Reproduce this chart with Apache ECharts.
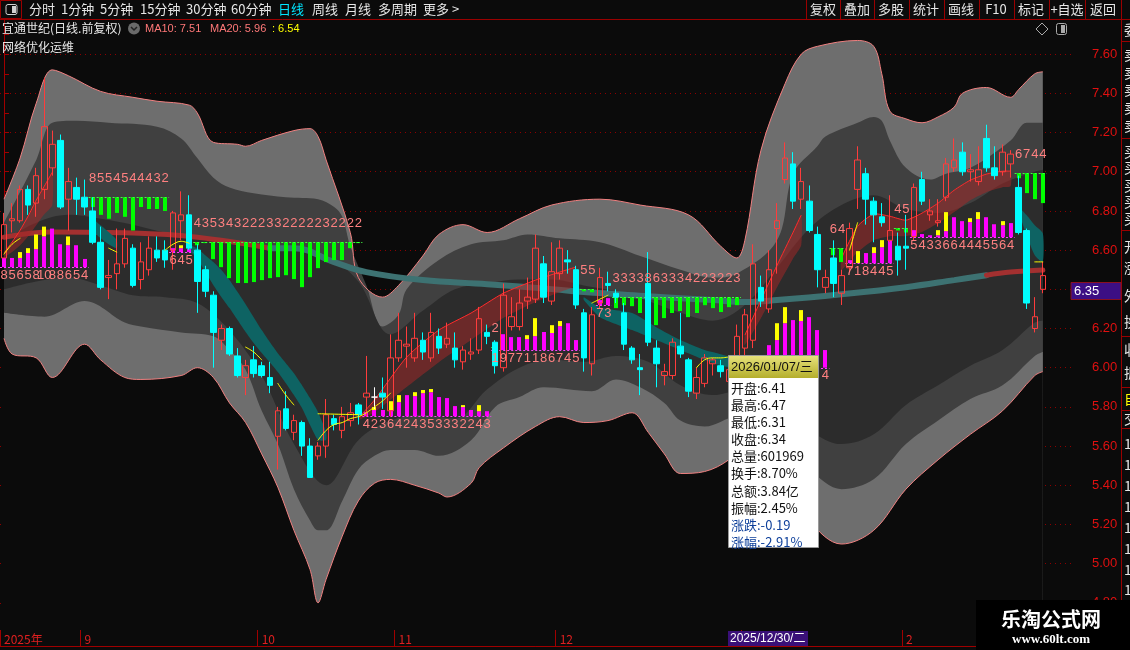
<!DOCTYPE html>
<html><head><meta charset="utf-8">
<script src="https://cdn.jsdelivr.net/npm/echarts/dist/echarts.min.js"></script>
<style>html,body{margin:0;padding:0;background:#0b0b0b;}#c{width:1130px;height:650px;}</style>
</head><body><div id="c"></div>
<script>
// ---------- trading days ----------
const aug=[18,19,20,21,22,25,26,27,28,29];
const sep=[1,2,3,4,5,8,9,10,11,12,15,16,17,18,19,22,23,24,25,26,29,30];
const oct=[9,10,13,14,15,16,17,20,21,22,23,24,27,28,29,30,31];
const nov=[3,4,5,6,7,10,11,12,13,14,17,18,19,20,21,24,25,26,27,28];
const dec=[1,2,3,4,5,8,9,10,11,12,15,16,17,18,19,22,23,24,25,26,29,30,31];
const jan=[5,6,7,8,9,12,13,14,15,16,19,20,21,22,23,26,27,28,29,30];
const feb=[2,3,4,5,6,9,10,11,12,13,24,25,26,27];
const mar=[2,3,4,5,6,9,10];
const monthLabel={0:'2025年',10:'9',32:'10',49:'11',69:'12',92:'1',112:'2',126:'3'};
const lastPrice=6.35;

// ---------- candles ----------
const opens=[6.56,6.75,6.75,6.91,6.84,6.91,7.02,7.16,6.86,6.92, 6.87,6.80,6.64,6.46,6.48,6.53,6.61,6.45,6.50,6.60, 6.60,6.60,6.75,6.78,6.60,6.50,6.37,6.14,6.20,6.06, 5.95,6.04,6.01,5.95,5.65,5.79,5.67,5.72,5.60,5.55, 5.60,5.74,5.68,5.73,5.81,5.85,5.85,5.87,5.78,6.05, 6.11,6.05,6.14,6.05,6.16,6.12,6.10,6.03,6.07,6.09, 6.18,6.13,6.00,6.21,6.21,6.34,6.35,6.53,6.34,6.48, 6.55,6.50,6.28,6.02,6.33,6.43,6.38,6.28,6.10,6.00, 6.43,6.10,5.96,5.96,6.11,6.04,5.87,5.92,6.02,6.01, 5.93,5.99,6.10,6.14,6.41,6.30,6.71,6.96,7.04,6.86, 6.85,6.68,6.41,6.56,6.38,6.51,6.91,6.99,6.85,6.77, 6.65,6.62,6.62,6.67,6.96,6.78,6.74,6.87,7.02,7.10, 7.00,6.95,7.17,7.02,7.00,7.04,6.92,6.70,6.20,6.40];
const closes=[6.73,6.76,6.91,6.83,6.98,7.23,7.14,6.82,6.95,6.86, 6.82,6.64,6.41,6.47,6.53,6.66,6.42,6.54,6.61,6.56, 6.55,6.79,6.78,6.61,6.44,6.39,6.18,6.20,6.07,5.96, 6.01,5.97,5.96,5.91,5.78,5.69,5.73,5.60,5.44,5.60, 5.76,5.71,5.75,5.77,5.76,5.87,5.85,5.85,6.05,6.14, 6.12,6.15,6.08,6.18,6.10,6.15,6.04,6.09,6.08,6.25, 6.16,6.01,6.37,6.26,6.33,6.36,6.61,6.36,6.49,6.61, 6.54,6.32,6.05,6.27,6.46,6.42,6.36,6.12,6.04,5.99, 6.13,6.02,5.98,6.13,6.07,5.88,5.95,6.05,6.04,5.98, 5.99,6.16,6.27,6.53,6.34,6.50,6.75,7.07,6.85,6.95, 6.70,6.50,6.46,6.43,6.47,6.71,7.06,6.86,6.78,6.74, 6.70,6.55,6.61,6.92,6.85,6.80,6.75,7.04,7.06,7.00, 7.01,7.01,7.02,6.98,7.10,7.09,6.69,6.33,6.26,6.47];
const lows=[6.56,6.69,6.74,6.78,6.77,6.86,6.98,6.81,6.70,6.78, 6.78,6.63,6.40,6.35,6.40,6.51,6.41,6.40,6.47,6.54, 6.51,6.50,6.65,6.60,6.28,6.36,6.00,6.09,6.06,5.95, 5.86,5.95,5.95,5.87,5.48,5.68,5.63,5.55,5.44,5.53, 5.54,5.68,5.64,5.70,5.71,5.75,5.79,5.79,5.75,6.03, 6.00,6.03,6.04,6.03,6.07,6.10,6.00,5.99,6.04,6.07, 6.12,5.97,5.98,6.19,6.19,6.30,6.33,6.33,6.32,6.45, 6.48,6.30,5.98,5.96,6.30,6.39,6.33,6.09,6.02,5.86, 6.11,5.90,5.91,5.94,6.05,5.85,5.84,5.90,5.96,5.95, 5.90,5.97,6.05,6.10,6.31,6.28,6.48,6.94,6.81,6.81, 6.69,6.41,6.38,6.36,6.32,6.49,6.81,6.73,6.64,6.72, 6.64,6.47,6.50,6.65,6.83,6.75,6.72,6.85,7.00,6.98, 6.95,6.93,7.00,6.96,6.98,6.97,6.68,6.30,6.18,6.38];
const highs=[6.79,6.84,6.93,6.93,7.02,7.48,7.21,7.19,7.02,6.97, 6.96,6.87,6.72,6.55,6.71,6.71,6.63,6.64,6.67,6.67, 6.65,6.80,6.90,6.88,6.63,6.52,6.39,6.22,6.21,6.10, 6.04,6.11,6.03,6.03,5.80,5.88,5.76,5.73,5.64,5.62, 5.84,5.76,5.80,5.82,5.82,6.06,5.90,5.95,6.17,6.28, 6.21,6.28,6.18,6.28,6.20,6.23,6.18,6.11,6.15,6.31, 6.22,6.14,6.43,6.36,6.40,6.46,6.68,6.57,6.64,6.65, 6.60,6.52,6.30,6.31,6.51,6.49,6.40,6.33,6.11,6.07, 6.59,6.14,6.02,6.15,6.28,6.05,6.00,6.07,6.05,6.04, 6.02,6.22,6.30,6.63,6.47,6.60,6.84,7.15,7.10,7.02, 6.93,6.72,6.50,6.65,6.50,6.74,7.13,7.02,6.87,6.84, 6.88,6.69,6.78,6.94,7.00,6.86,6.86,7.07,7.17,7.15, 7.09,7.13,7.24,7.13,7.14,7.11,6.98,6.71,6.36,6.54];
const flatDoji=[46];

// ---------- envelope bands [candle index, price] ----------
const bandU3=[[0,6.86],[2,7.07],[4,7.35],[6,7.52],[8,7.49],[12,7.41],[16,7.38],[19,7.36],[23,7.34],[24,7.30],[26,7.15],[29,7.14],[30,7.13],[32,7.16],[36,7.21],[38,7.22],[39,7.18],[40,7.06],[43,6.69],[44,6.46],[47,6.36],[49,6.42],[52,6.57],[54,6.68],[57,6.73],[60,6.69],[64,6.76],[68,6.83],[74,6.86],[79,6.83],[85,6.78],[89,6.62],[91,6.56],[92,6.65],[94,7.11],[97,7.45],[99,7.60],[101,7.64],[106,7.67],[108,7.64],[109,7.50],[110,7.31],[112,7.27],[114,7.25],[116,7.28],[118,7.33],[119,7.40],[122,7.43],[125,7.38],[126,7.42],[128,7.50],[129,7.51]];
const bandU2=[[0,6.74],[4,7.06],[6,7.25],[9,7.26],[13,7.25],[19,7.23],[22,7.17],[24,7.07],[26,6.97],[28,6.92],[31,6.89],[35,6.87],[39,6.86],[41,6.82],[42,6.77],[43,6.62],[45,6.42],[47,6.21],[49,6.27],[50,6.40],[54,6.55],[58,6.63],[62,6.65],[65,6.68],[69,6.66],[74,6.64],[79,6.57],[84,6.50],[88,6.46],[91,6.48],[96,6.65],[98,6.99],[101,7.13],[102,7.18],[106,7.25],[108,7.28],[109,7.26],[110,7.16],[112,7.02],[115,6.96],[117,6.99],[120,7.02],[125,7.16],[127,7.25],[129,7.25]];
const bandU1=[[0,6.65],[4,6.74],[8,6.78],[12,6.76],[16,6.73],[20,6.69],[24,6.67],[28,6.64],[32,6.62],[36,6.60],[40,6.57],[44,6.44],[48,6.17],[52,6.29],[56,6.40],[60,6.43],[64,6.45],[68,6.45],[72,6.42],[76,6.39],[80,6.34],[84,6.28],[88,6.24],[92,6.32],[96,6.51],[100,6.71],[104,6.83],[108,6.88],[112,6.81],[116,6.79],[120,6.84],[124,6.94],[128,7.00],[129,7.01]];
const bandL1=[[0,6.40],[4,6.44],[8,6.46],[12,6.42],[16,6.37],[20,6.36],[24,6.33],[28,6.19],[32,5.96],[36,5.61],[40,5.40],[44,5.63],[48,5.73],[52,5.76],[56,5.74],[60,5.89],[64,6.00],[68,6.04],[72,6.03],[76,6.06],[80,6.03],[84,5.91],[88,5.86],[92,5.89],[96,5.81],[100,5.68],[104,5.61],[108,5.66],[112,5.81],[116,5.91],[120,6.01],[124,6.09],[128,6.23],[129,6.24]];
const bandL2=[[0,6.28],[5,6.26],[10,6.34],[15,6.23],[17,6.21],[22,6.18],[26,6.16],[28,6.09],[30,5.99],[32,5.78],[34,5.61],[36,5.38],[38,5.22],[39,5.17],[40,5.17],[42,5.32],[44,5.48],[46,5.55],[48,5.58],[51,5.58],[54,5.55],[58,5.63],[61,5.80],[64,5.85],[67,5.90],[73,5.88],[76,5.94],[79,5.90],[82,5.82],[84,5.73],[87,5.70],[91,5.75],[96,5.63],[100,5.48],[104,5.38],[108,5.43],[112,5.61],[116,5.73],[120,5.84],[124,5.91],[128,6.06],[129,6.08]];
const bandL3=[[0,6.15],[1,6.07],[4,6.05],[6,5.95],[10,6.12],[12,6.04],[15,5.95],[17,5.94],[22,5.96],[24,6.00],[26,5.95],[28,5.82],[30,5.72],[32,5.56],[34,5.39],[36,5.17],[38,4.97],[39,4.80],[40,4.92],[42,5.14],[44,5.32],[46,5.41],[48,5.43],[51,5.40],[54,5.36],[55,5.34],[58,5.41],[59,5.49],[62,5.59],[66,5.70],[69,5.75],[72,5.72],[75,5.73],[78,5.77],[80,5.67],[82,5.56],[84,5.46],[87,5.47],[90,5.53],[91,5.59],[96,5.48],[100,5.22],[104,5.10],[108,5.17],[112,5.38],[116,5.53],[120,5.66],[124,5.78],[128,5.96],[129,5.98]];

// ---------- long average (thick) ----------
const maRedA=[[0,6.666],[6,6.692],[16,6.687],[24,6.666],[33,6.610]];
const maTeal=[[33,6.610],[36,6.61],[41,6.539],[45,6.488],[52,6.447],[60,6.426],[68,6.401],[72,6.386],[80,6.365],[88,6.345],[92,6.335],[96,6.345],[104,6.375],[112,6.411],[118,6.447],[122,6.472]];
const maRedB=[[122,6.472],[125,6.488],[129,6.498]];

// ---------- ribbons [index, upper, lower] ----------
const ribA=[[0,6.585,6.564],[1,6.641,6.590],[2,6.702,6.625],[3,6.774,6.671],[4,6.855,6.727],[5,6.926,6.783],[6,6.998,6.829]];
const ribB=[[11,6.758,6.702],[12,6.727,6.661],[13,6.692,6.630],[14,6.651,6.610]];
const ribC=[[23,6.625,6.600],[24,6.610,6.559],[25,6.574,6.488],[26,6.539,6.421],[27,6.498,6.360],[28,6.447,6.304],[29,6.386,6.243],[30,6.324,6.182],[31,6.258,6.126],[32,6.192,6.075],[33,6.131,6.028],[34,6.074,5.978],[35,6.023,5.921],[36,5.972,5.860],[37,5.911,5.794],[38,5.845,5.707],[39,5.773,5.631],[40,5.671,5.631]];
const ribD=[[44,5.743,5.733],[46,5.835,5.773],[50,6.054,5.901],[54,6.192,6.028],[58,6.279,6.141],[62,6.380,6.253],[66,6.447,6.335],[69,6.488,6.386],[71,6.513,6.421]];
const ribE=[[72,6.360,6.345],[74,6.309,6.258],[78,6.279,6.192],[81,6.207,6.141],[84,6.141,6.090],[87,6.090,6.039],[90,6.054,6.003]];
const ribF=[[92,6.166,6.115],[94,6.345,6.253],[96,6.523,6.411],[98,6.692,6.559],[99,6.779,6.625]];
const ribG=[[104,6.559,6.498],[106,6.722,6.590],[108,6.784,6.651],[110,6.773,6.671],[112,6.753,6.671],[114,6.789,6.692],[116,6.840,6.738],[118,6.906,6.794],[120,6.957,6.855],[122,6.988,6.896],[124,7.003,6.921],[125,7.003,6.926]];
const ribH=[[126,6.819,6.794],[127,6.778,6.676],[128,6.727,6.574],[129,6.686,6.539]];

// ---------- thin yellow line segments ----------
const yellowSegs=[
 [[0,6.58],[1,6.63],[2,6.66]],
 [[13,6.61],[14,6.59]],
 [[20,6.60],[21,6.63],[22,6.645],[23,6.635]],
 [[30,6.105],[31,6.08],[32,6.04]],
 [[34,5.92],[35,5.86],[36,5.81]],
 [[39,5.63],[40,5.68],[41,5.71],[42,5.72],[43,5.74],[44,5.75],[45,5.77],[46,5.80],[47,5.83],[48,5.87]],
 [[39,5.765],[44,5.76]],
 [[73,6.33],[74,6.35],[75,6.37]],
 [[86,6.00],[87,6.04],[88,6.05],[89,6.05],[90,6.055]],
 [[105,6.60],[106,6.74]],
 [[128,6.54],[129,6.54]]
];

// ---------- signal bar groups ----------
const g1Mag=[6.56,6.56,6.56,6.585,6.605,6.67,6.71,6.63,6.625,6.625,6.555], g1Yel=[null,null,6.59,6.61,6.68,6.72,null,null,6.67,null,null];
const g1Txt=['8','5','6','5','8','10','8','8','6','5','4'];
const g2Bot=[6.82,6.78,6.76,6.79,6.77,6.70,6.82,6.81,6.81,6.80], g2Txt='8554544432';
const g3Mag=[6.61,6.61,6.605], g3Yel=[null,6.625,null], g3Txt='645';
const g4Bot=[6.625,6.636,6.554,6.513,6.457,6.432,6.432,6.437,6.447,6.457,6.462,6.472,6.452,6.411,6.462,6.508,6.539,6.549,6.549,6.610,6.636], g4Txt='435343222332222232222';
const g5Mag=[5.773,5.784,5.784,5.784,5.824,5.860,5.855,5.870,5.875,5.850,5.845,5.804,5.799,5.784,5.778,5.778];
const g5Yel=[null,5.799,null,5.829,5.860,null,5.875,5.886,5.891,null,null,null,5.809,null,5.809,null], g5Txt='4236424353332243';
const g6Mag=[6.11,6.171,6.156,6.156,6.146,6.161,6.182,6.177,6.212,6.227,6.141];
const g6Yel=[null,null,null,null,6.166,6.253,null,6.217,6.238,null,null], g6Txt='19771186745';
const g6bMag=[6.345,6.355], g6bTxt='73';
const g7aBot=[6.39,6.385], g7aTxt='55';
const g7bBot=[6.09], g7bTxt='2';
const g7Bot=[6.304,6.319,6.314,6.279,6.253,6.217,6.253,6.279,6.289,6.258,6.279,6.319,6.304,6.284,6.309,6.319], g7Txt='3333863334223223';
const g8Mag=[6.06,6.115,6.141,6.227,6.243,6.238,6.258,6.192,6.09], g8Yel=[null,null,6.227,6.309,null,6.294,null,null,null], g8Txt='        4';
const g9Bot=[6.574,6.539], g9Txt='64';
const g10Mag=[6.549,6.534,6.585,6.585,6.615,6.651], g10Yel=[null,6.595,null,6.615,6.651,null], g10Txt='718445';
const g11Bot=[6.70,6.69], g11Txt='45';
const g12Mag=[6.702,6.682,6.676,6.676,6.697,6.768,6.748,6.743,6.758,6.768,6.732,6.727,6.738];
const g12Yel=[null,null,null,6.702,6.794,null,null,6.763,6.794,null,null,6.748,null], g12Txt='5433664445564';
const g13Bot=[6.967,6.891,6.860,6.840], g13Txt='6744';

const groups=[
 {s:0,base:6.513,up:g1Mag,yel:g1Yel,txt:g1Txt},
 {s:11,base:6.870,down:g2Bot,txt:g2Txt},
 {s:21,base:6.590,up:g3Mag,yel:g3Yel,txt:g3Txt},
 {s:24,base:6.641,down:g4Bot,txt:g4Txt},
 {s:45,base:5.753,up:g5Mag,yel:g5Yel,txt:g5Txt},
 {s:61,base:6.090,up:g6Mag,yel:g6Yel,txt:g6Txt},
 {s:74,base:6.320,up:g6bMag,txt:g6bTxt},
 {s:72,base:6.400,down:g7aBot,txt:g7aTxt},
 {s:61,base:6.105,down:g7bBot,txt:g7bTxt},
 {s:76,base:6.360,down:g7Bot,txt:g7Txt},
 {s:94,base:6.000,up:g8Mag,yel:g8Yel,txt:g8Txt},
 {s:103,base:6.610,down:g9Bot,txt:g9Txt},
 {s:105,base:6.534,up:g10Mag,yel:g10Yel,txt:g10Txt},
 {s:111,base:6.712,down:g11Bot,txt:g11Txt},
 {s:113,base:6.666,up:g12Mag,yel:g12Yel,txt:g12Txt},
 {s:126,base:6.993,down:g13Bot,txt:g13Txt}
];

// ---------- build ----------
const months=[['2025-08',aug],['2025-09',sep],['2025-10',oct],['2025-11',nov],['2025-12',dec],['2026-01',jan],['2026-02',feb],['2026-03',mar]];
const dates=[];
months.forEach(([m,ds])=>ds.forEach(d=>dates.push(m+'-'+String(d).padStart(2,'0'))));
const N=dates.length;

const kData=opens.map((o,i)=>{
  const v=[o,closes[i],lows[i],highs[i]];
  if(flatDoji.includes(i)) return {value:v,itemStyle:{color:'#ffffff',color0:'#ffffff',borderColor:'#ffffff',borderColor0:'#ffffff'}};
  return v;
});

const barData=[], baseData=[], lblData=[], lblText=[];
groups.forEach(g=>{
  const arr=g.up||g.down; const n=arr.length;
  baseData.push([g.s,g.base,g.s+n-1,g.up?1:0]);
  arr.forEach((v,k)=>{
    const i=g.s+k;
    if(g.up){
      if(v>g.base) barData.push([i,g.base,v,0]);
      if(g.yel&&g.yel[k]!=null) barData.push([i,v,g.yel[k],1]);
    } else {
      barData.push([i,g.base,v,2]);
    }
    const t=Array.isArray(g.txt)?g.txt[k]:g.txt.charAt(k);
    if(t&&t.trim()){ lblData.push([i,g.base,g.up?0:1]); lblText.push(t); }
  });
});
const BAR_COLORS=['#ff00ff','#ffff00','#00ff00'];

function bandSeries(data,fill,edge){
  return {type:'line',xAxisIndex:1,yAxisIndex:0,data,smooth:0.35,symbol:'none',silent:true,z:1,
    lineStyle:{width:edge?1:0,color:edge||fill},areaStyle:{color:fill,opacity:1,origin:'start'}};
}
function ribbonSeries(rib,fill,edge){
  return {type:'custom',xAxisIndex:1,yAxisIndex:0,silent:true,z:3,data:[[rib[0][0],rib[0][1]]],
    renderItem:(params,api)=>{
      const up=rib.map(r=>api.coord([r[0],r[1]]));
      const lo=rib.map(r=>api.coord([r[0],r[2]])).reverse();
      const ch=[{type:'polygon',shape:{points:up.concat(lo),smooth:0.2},style:{fill}}];
      if(edge) ch.push({type:'polyline',shape:{points:up,smooth:0.2},style:{stroke:edge,lineWidth:1,fill:null}});
      return {type:'group',children:ch};
    }};
}
function lineSeries(data,color,width,z){
  return {type:'line',xAxisIndex:1,yAxisIndex:0,data,smooth:0.4,symbol:'none',silent:true,z:z||2,
    lineStyle:{color,width,cap:'round'}};
}
const labelFont='13px "Liberation Sans", Arial, sans-serif';

const series=[
  bandSeries(bandU3,'#6e6e6e','#f08080'),
  bandSeries(bandU2,'#404040'),
  bandSeries(bandU1,'#2c2c2c'),
  bandSeries(bandL1,'#404040'),
  bandSeries(bandL2,'#6e6e6e'),
  bandSeries(bandL3,'#0b0b0b','#f08080'),
  lineSeries(maRedA,'#a33030',5),
  lineSeries(maTeal,'#3d7272',6),
  lineSeries(maRedB,'#a33030',5),
  ribbonSeries(ribA,'rgba(160,40,40,0.55)','#ff2a2a'),
  ribbonSeries(ribB,'#0e6363',null),
  ribbonSeries(ribC,'#0e6363',null),
  ribbonSeries(ribD,'rgba(160,40,40,0.55)','#ff2a2a'),
  ribbonSeries(ribE,'#0e6363',null),
  ribbonSeries(ribF,'rgba(160,40,40,0.55)','#ff2a2a'),
  ribbonSeries(ribG,'rgba(160,40,40,0.55)','#ff2a2a'),
  ribbonSeries(ribH,'#0e6363',null),
  {type:'custom',xAxisIndex:0,yAxisIndex:0,silent:true,z:4,data:barData,
    renderItem:(params,api)=>{
      const i=api.value(0),a=api.value(1),b=api.value(2),k=api.value(3);
      const p0=api.coord([i,a]),p1=api.coord([i,b]);
      return {type:'rect',shape:{x:Math.round(p0[0]-2),y:Math.min(p0[1],p1[1]),width:4,height:Math.max(1,Math.abs(p1[1]-p0[1]))},style:{fill:BAR_COLORS[k]}};
    }},
  {type:'custom',xAxisIndex:0,yAxisIndex:0,silent:true,z:4,data:baseData,
    renderItem:(params,api)=>{
      const s=api.value(0),b=api.value(1),e=api.value(2),k=api.value(3);
      const p0=api.coord([s,b]),p1=api.coord([e,b]);
      const hw=api.size([1,0])[0]/2; const y=Math.round(p0[1])+0.5;
      return {type:'line',shape:{x1:p0[0]-hw,y1:y,x2:p1[0]+hw,y2:y},style:{stroke:k?'#ff40ff':'#40ff40',lineWidth:1,lineDash:[2,2]}};
    }},
  {type:'candlestick',xAxisIndex:0,yAxisIndex:0,data:kData,barWidth:6,z:5,silent:true,
    itemStyle:{color:'rgba(0,0,0,0)',color0:'#00ffff',borderColor:'#ff3c3c',borderColor0:'#00ffff',borderWidth:1}},
  {type:'custom',xAxisIndex:0,yAxisIndex:0,silent:true,z:6,data:lblData,
    renderItem:(params,api)=>{
      const i=api.value(0),b=api.value(1),above=api.value(2);
      const p=api.coord([i,b]);
      return {type:'text',x:p[0],y:above?p[1]-19:p[1]+8,style:{text:lblText[params.dataIndex],fill:'#ff8080',font:labelFont,textAlign:'center',textVerticalAlign:'middle',align:'center',verticalAlign:'middle'}};
    }}
];
yellowSegs.forEach(seg=>series.push(lineSeries(seg,'#ffff00',1,6)));

// ---------- static chrome ----------
const G=[];
const CJK='"Noto Sans CJK SC", sans-serif';
function txt(x,y,s,fill,size,align,weight,family,z){G.push({type:'text',x,y,z:z||52,silent:true,style:{text:s,fill,font:(weight?weight+' ':'')+size+'px '+(family||CJK),textAlign:align||'left',textVerticalAlign:'middle',align:align||'left',verticalAlign:'middle'}});}
function rect(x,y,w,h,fill,stroke,z,r){G.push({type:'rect',z:z||45,silent:true,shape:{x,y,width:w,height:h,r:r||0},style:{fill:fill||null,stroke:stroke||null,lineWidth:1}});}
function ln(x1,y1,x2,y2,stroke,z){G.push({type:'line',z:z||48,silent:true,shape:{x1,y1,x2,y2},style:{stroke,lineWidth:1}});}

// toolbar
rect(0,0,1130,19,'#0b0b0b',null,40);
ln(0,19.5,1130,19.5,'#9a0000');
rect(0.5,0.5,21,18,null,'#9a0000',48);
rect(6,4.5,11,10,null,'#d0d0d0',49,2); rect(12,6,4,7,'#d0d0d0',null,49);
[['分时',29],['1分钟',61],['5分钟',100],['15分钟',140],['30分钟',186],['60分钟',231],['日线',278,'#00e5ff'],['周线',312],['月线',345],['多周期',378],['更多 >',423]]
 .forEach(a=>txt(a[1],9.5,a[0],a[2]||'#e6e6e6',13));
[806,840,874,909,944,979,1014,1049,1085,1121].forEach(x=>ln(x+0.5,0,x+0.5,19,'#9a0000'));
[['复权',823],['叠加',857],['多股',891],['统计',926],['画线',961],['F10',996],['标记',1031],['+自选',1067],['返回',1103]]
 .forEach(a=>txt(a[1],9.5,a[0],'#e6e6e6',13,'center'));
// title
txt(2,28.5,'宜通世纪(日线.前复权)','#e8e8e8',12);
G.push({type:'circle',z:50,silent:true,shape:{cx:134,cy:28.5,r:6},style:{fill:'#6a6a6a'}});
G.push({type:'polyline',z:51,silent:true,shape:{points:[[131,27],[134,30],[137,27]]},style:{stroke:'#222',lineWidth:1.5,fill:null}});
txt(145,28.5,'MA10: 7.51','#ff7878',11,'left',null,'"Liberation Sans", Arial');
txt(210,28.5,'MA20: 5.96','#ff7878',11,'left',null,'"Liberation Sans", Arial');
txt(272,28.5,': 6.54','#ffff00',11,'left',null,'"Liberation Sans", Arial');
txt(2,47.5,'网络优化运维','#e8e8e8',12);
G.push({type:'polygon',z:50,silent:true,shape:{points:[[1042,23],[1048,29],[1042,35],[1036,29]]},style:{fill:null,stroke:'#aaaaaa',lineWidth:1}});
rect(1056.5,23.5,10,11,null,'#aaaaaa',50,2); rect(1061,25,4,8,'#aaaaaa',null,50);

// right panel
ln(1121.5,19,1121.5,650,'#9a0000');
[41,138,230,336,387,410,428].forEach(y=>ln(1122,y+0.5,1130,y+0.5,'#9a0000'));
[['委',30],['卖',55],['卖',73],['卖',90],['卖',108],['卖',126],['买',152],['买',168],['买',186],['买',202],['买',219],['开',247],['涨',268],['外',296],['换',322],['收',350],['振',373],['自',399,'#ffff00'],['交',419],['1',444],['1',465],['1',486],['1',507],['1',528],['1',549],['1',570],['1',590]]
 .forEach(a=>txt(1124,a[1],a[0],a[2]||'#e6e6e6',14));

// bottom strip cover
rect(0,629,1121,21,'#0b0b0b',null,40);

// tooltip
rect(728.5,355.5,90,192,'#ffffff','#9a9a9a',55);
G.push({type:'rect',z:56,silent:true,shape:{x:729,y:356,width:89,height:22},style:{fill:new echarts.graphic.LinearGradient(0,0,0,1,[{offset:0,color:'#e6e27a'},{offset:1,color:'#b4ae2c'}])}});
txt(731,367,'2026/01/07/三','#111111',13,'left',null,'"Liberation Sans", '+CJK,58);
const tipLines=[['开盘:6.41'],['最高:6.47'],['最低:6.31'],['收盘:6.34'],['总量:601969'],['换手:8.70%'],['总额:3.84亿'],['振幅:2.45%'],['涨跌:-0.19','#0d3f9a'],['涨幅:-2.91%','#0d3f9a']];
tipLines.forEach((a,k)=>txt(731,388+17.1*k,a[0],a[1]||'#111111',13,'left',null,CJK,58));

// crosshair date label
rect(728,631,80,15,'#3a1078',null,60);
txt(730,638.5,'2025/12/30/二','#ffffff',12,'left',null,'"Liberation Sans", '+CJK,61);

// watermark
rect(976,600,154,50,'#000000',null,62);
txt(1051,619,'乐淘公式网','#ffffff',20,'center','bold',CJK,63);
txt(1051,640,'www.60lt.com','#ffffff',13,'center','bold','"Liberation Serif", serif',63);

const chart=echarts.init(document.getElementById('c'));
const option={
  animation:false,
  backgroundColor:'#0b0b0b',
  grid:[{left:0,top:15,width:1071,height:627,outerBoundsMode:'none',containLabel:false},
        {left:0,top:630,width:1071,height:16,outerBoundsMode:'none',containLabel:false}],
  xAxis:[
    {type:'category',gridIndex:0,data:dates,show:false,boundaryGap:true},
    {type:'value',gridIndex:0,min:-0.5,max:N-0.5,show:false},
    {type:'category',gridIndex:1,data:dates,position:'top',boundaryGap:true,z:50,
      axisLine:{show:true,lineStyle:{color:'#a00000'}},axisTick:{show:false},
      axisLabel:{show:true,inside:true,margin:3,align:'left',verticalAlign:'top',color:'#e02020',fontSize:12,fontFamily:'"Noto Sans CJK SC", sans-serif',
        interval:(idx)=>monthLabel[idx]!==undefined,formatter:(v,idx)=>monthLabel[idx]||''},
      splitLine:{show:true,interval:(idx)=>monthLabel[idx]!==undefined,lineStyle:{color:'#a00000',width:1}}},
    {type:'category',gridIndex:1,data:dates,position:'bottom',z:50,
      axisLine:{show:true,lineStyle:{color:'#a00000'}},axisTick:{show:false},axisLabel:{show:false}}
  ],
  yAxis:[
    {type:'value',gridIndex:0,min:4.6,max:7.8,interval:0.2,position:'right',
      axisLine:{show:true,lineStyle:{color:'#a00000'}},
      axisTick:{show:true,length:5,lineStyle:{color:'#a00000'}},
      minorTick:{show:true,splitNumber:2,length:5,lineStyle:{color:'#a00000'}},
      axisLabel:{color:'#e01010',fontSize:13,fontFamily:'"Liberation Sans", Arial',margin:21,align:'left',
        formatter:(v)=>(v<4.7||v>7.7)?'':v.toFixed(2)},
      splitLine:{show:true,lineStyle:{color:'#8c0000',type:[1,4],width:1}}},
    {type:'value',gridIndex:1,show:false}
  ],
  series,
  graphic:{elements:G}
};
chart.setOption(option);

// current price tag on the price axis (tag sits just above the price level), placed through the axis scale
const py=Math.round(chart.convertToPixel({yAxisIndex:0},lastPrice));
G.push({type:'rect',z:54,silent:true,shape:{x:1071,y:py-16.5,width:50,height:17},style:{fill:'#3c0f84',stroke:'#8a1020',lineWidth:1}});
G.push({type:'text',x:1074,y:py-8,z:55,silent:true,style:{text:lastPrice.toFixed(2),fill:'#ffffff',font:'13px "Liberation Sans", Arial',textAlign:'left',textVerticalAlign:'middle',align:'left',verticalAlign:'middle'}});
chart.setOption({graphic:{elements:G}},{replaceMerge:['graphic']});
</script></body></html>
